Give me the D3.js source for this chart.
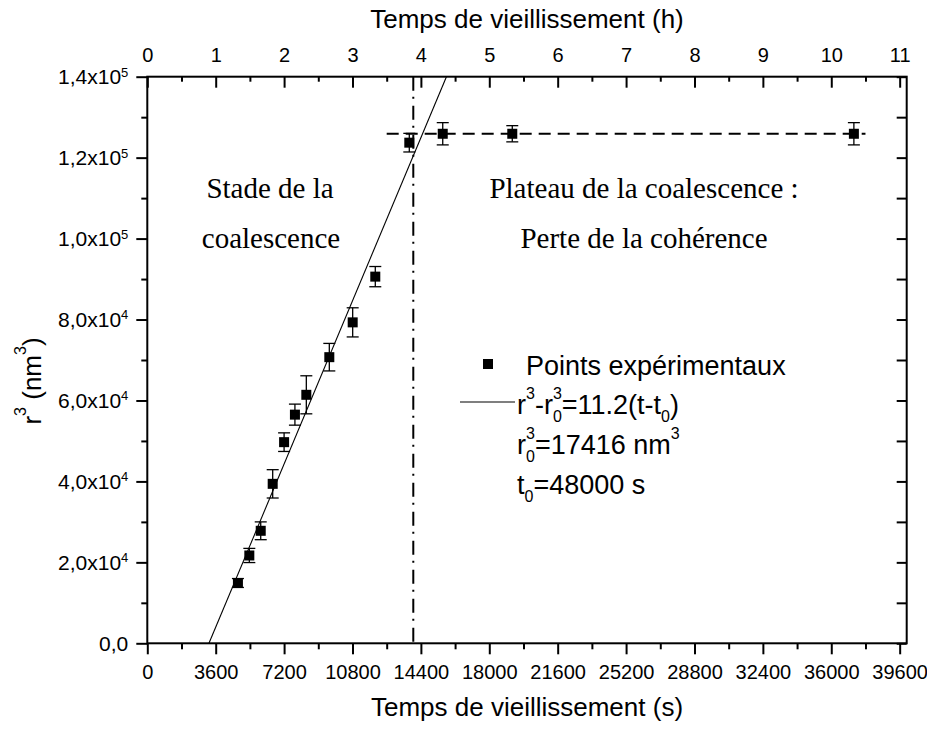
<!DOCTYPE html>
<html>
<head>
<meta charset="utf-8">
<script src="https://cdn.jsdelivr.net/npm/d3@7"></script>
<style>
  body { margin: 0; background: #fff; }
  svg { display: block; }
</style>
</head>
<body>
<script>
// Experimental points: ageing time (s), mean cubed radius (nm^3) and error
const timeS = [4770, 5370, 5970, 6600, 7200, 7770, 8370, 9580, 10810, 12000, 13790, 15550, 19210, 37190];
const r3    = [14900, 21700, 27800, 39400, 49700, 56500, 61400, 70700, 79300, 90600, 123700, 125900, 125900, 125900];
const r3Err = [1100, 1750, 2200, 3500, 2300, 2600, 4700, 3400, 3600, 2500, 2300, 2750, 2000, 2750];

// Linear coalescence law r^3 - r0^3 = k (t - t0)
const fitSlope = 11.2;
const fitR0Cube = 17416;
const fitT0 = 4800;

// Plateau level and limit of the coalescence stage
const plateauLevel = 125900;
const plateauSpan = [12600, 37800];
const stageLimitS = 14000;

// Axis ticks
const xTicksS = [0, 3600, 7200, 10800, 14400, 18000, 21600, 25200, 28800, 32400, 36000, 39600];
const xTicksH = [0, 1, 2, 3, 4, 5, 6, 7, 8, 9, 10, 11];
const yTicks = [0, 20000, 40000, 60000, 80000, 100000, 120000, 140000];

const W = 927, H = 731;
const plotL = 147.3, plotT = 76.7, plotR = 906.7, plotB = 643.3;
const sans = "'Liberation Sans', Arial, Helvetica, sans-serif";
const serif = "'Liberation Serif', 'Times New Roman', serif";

const svg = d3.select("body").append("svg").attr("width", W).attr("height", H);

const x = d3.scaleLinear().domain([0, 39970]).range([plotL, plotR]);
const xh = d3.scaleLinear().domain([0, 39970 / 3600]).range([plotL, plotR]);
const y = d3.scaleLinear().domain([0, 140000]).range([plotB, plotT]);

const mid = (arr) => arr.slice(0, -1).map((v, i) => (v + arr[i + 1]) / 2);

function styleAxis(g, noText, fs) {
  g.select(".domain").remove();
  g.selectAll(".tick line").attr("stroke", "#000").attr("stroke-width", 2);
  g.selectAll(".tick text").attr("fill", "#000").style("font-family", sans).style("font-size", (fs || 20) + "px");
  if (noText) g.selectAll(".tick text").remove();
}

// Rich text: pieces are [text, kind] with kind "", "sup", "sub" or "stack" (sup over sub).
// Only relative shifts (dx/dy) are used so that text-anchor applies to the whole line.
function fillRich(t, size, pieces, supRatio) {
  const small = Math.round(size * 0.6);
  const supOff = -size * (supRatio || 0.56), subOff = size * 0.28;
  let cur = 0;
  const span = (s, off, fs, dx) => {
    const ts = t.append("tspan").attr("dy", off - cur).text(s);
    if (fs) ts.style("font-size", fs + "px");
    if (dx) ts.attr("dx", dx);
    cur = off;
  };
  pieces.forEach(([s, kind]) => {
    if (kind === "sup") span(s, supOff, small);
    else if (kind === "sub") span(s, subOff, small);
    else if (kind === "stack") { span(s[0], supOff, small); span(s[1], subOff, small, -0.556 * small); }
    else span(s, 0, null);
  });
  return t;
}
function rich(parent, px, py, size, pieces) {
  const t = parent.append("text").attr("x", px).attr("y", py).style("font-size", size + "px");
  return fillRich(t, size, pieces);
}

// Bottom axis (seconds)
svg.append("g").attr("transform", `translate(0,${plotB})`)
  .call(d3.axisBottom(x).tickValues(xTicksS).tickSize(11).tickSizeOuter(0).tickPadding(11).tickFormat(d3.format("d")))
  .call(g => styleAxis(g));
svg.append("g").attr("transform", `translate(0,${plotB})`)
  .call(d3.axisBottom(x).tickValues(mid(xTicksS)).tickSize(6).tickSizeOuter(0).tickFormat(""))
  .call(g => styleAxis(g, true));

// Top axis (hours), ticks pointing inward
svg.append("g").attr("transform", `translate(0,${plotT})`)
  .call(d3.axisTop(xh).tickValues(xTicksH).tickSize(-11).tickSizeOuter(0).tickPadding(15).tickFormat(d3.format("d")))
  .call(g => styleAxis(g));
svg.append("g").attr("transform", `translate(0,${plotT})`)
  .call(d3.axisTop(xh).tickValues(mid(xTicksH)).tickSize(-5).tickSizeOuter(0).tickFormat(""))
  .call(g => styleAxis(g, true));

// Left axis with scientific labels
function sciParts(v) {
  if (v === 0) return [["0,0", ""]];
  const e = Math.floor(Math.log10(v));
  const m = (v / Math.pow(10, e)).toFixed(1).replace(".", ",");
  return [[m + "x10", ""], [String(e), "sup"]];
}
svg.append("g").attr("transform", `translate(${plotL},0)`)
  .call(d3.axisLeft(y).tickValues(yTicks).tickSize(11).tickSizeOuter(0).tickPadding(8).tickFormat(""))
  .call(g => styleAxis(g, false, 21))
  .call(g => g.selectAll(".tick text").each(function (d) {
    const t = d3.select(this).text(null).attr("dy", null).attr("y", 7);
    fillRich(t, 21, sciParts(d), 0.36);
  }));
svg.append("g").attr("transform", `translate(${plotL},0)`)
  .call(d3.axisLeft(y).tickValues(mid(yTicks)).tickSize(6).tickSizeOuter(0).tickFormat(""))
  .call(g => styleAxis(g, true));

// Right axis, inward ticks only
svg.append("g").attr("transform", `translate(${plotR},0)`)
  .call(d3.axisRight(y).tickValues(yTicks.concat(mid(yTicks))).tickSize(-10).tickSizeOuter(0).tickFormat(""))
  .call(g => styleAxis(g, true));

// Frame
svg.append("rect").attr("x", plotL).attr("y", plotT).attr("width", plotR - plotL).attr("height", plotB - plotT)
  .attr("fill", "none").attr("stroke", "#000").attr("stroke-width", 2);

// Axis titles
svg.append("text").attr("x", 527).attr("y", 28).attr("text-anchor", "middle")
  .style("font-family", sans).style("font-size", "26px").text("Temps de vieillissement (h)");
svg.append("text").attr("x", 527).attr("y", 716).attr("text-anchor", "middle")
  .style("font-family", sans).style("font-size", "26px").text("Temps de vieillissement (s)");
const ytg = svg.append("g").attr("transform", "translate(41,381) rotate(-90)").style("font-family", sans);
rich(ytg, 0, 0, 26, [["r", ""], ["3", "sup"], [" (nm", ""], ["3", "sup"], [")", ""]])
  .attr("text-anchor", "middle");

// Vertical separation between stages
svg.append("line").attr("x1", x(stageLimitS)).attr("x2", x(stageLimitS)).attr("y1", plotT).attr("y2", plotB)
  .attr("stroke", "#000").attr("stroke-width", 2).attr("stroke-dasharray", "14,6,2,7");

// Plateau level
svg.append("line").attr("x1", x(plateauSpan[0])).attr("x2", x(plateauSpan[1]))
  .attr("y1", y(plateauLevel)).attr("y2", y(plateauLevel))
  .attr("stroke", "#000").attr("stroke-width", 1.8).attr("stroke-dasharray", "12,7");

// Fitted coalescence law, from r^3 = 0 to the top of the plot
const fitY = (t) => fitR0Cube + fitSlope * (t - fitT0);
const tStart = fitT0 - fitR0Cube / fitSlope;
const tEnd = fitT0 + (y.domain()[1] - fitR0Cube) / fitSlope;
svg.append("line").attr("x1", x(tStart)).attr("y1", y(fitY(tStart)))
  .attr("x2", x(tEnd)).attr("y2", y(fitY(tEnd)))
  .attr("stroke", "#000").attr("stroke-width", 1.1);

// Error bars and markers
const pts = timeS.map((t, i) => ({ t, v: r3[i], e: r3Err[i] }));
const eb = svg.append("g").attr("stroke", "#000").attr("stroke-width", 1.3);
pts.forEach(p => {
  eb.append("line").attr("x1", x(p.t)).attr("x2", x(p.t)).attr("y1", y(p.v - p.e)).attr("y2", y(p.v + p.e));
  [p.v - p.e, p.v + p.e].forEach(v =>
    eb.append("line").attr("x1", x(p.t) - 6).attr("x2", x(p.t) + 6).attr("y1", y(v)).attr("y2", y(v)));
});
svg.append("g").selectAll("rect").data(pts).join("rect")
  .attr("x", d => x(d.t) - 5).attr("y", d => y(d.v) - 5).attr("width", 10).attr("height", 10).attr("fill", "#000");

// Stage annotations
const note = (tx, ty, s) => svg.append("text").attr("x", tx).attr("y", ty).attr("text-anchor", "middle")
  .style("font-family", serif).style("font-size", "29px").text(s);
note(270, 198, "Stade de la");
note(271, 248, "coalescence");
note(644, 198, "Plateau de la coalescence :");
note(644, 248, "Perte de la cohérence");

// Legend
const lg = svg.append("g").style("font-family", sans);
lg.append("rect").attr("x", 483).attr("y", 359).attr("width", 10).attr("height", 10).attr("fill", "#000");
rich(lg, 526, 375, 27, [["Points expérimentaux", ""]]);
lg.append("line").attr("x1", 460).attr("x2", 515).attr("y1", 402).attr("y2", 402)
  .attr("stroke", "#000").attr("stroke-width", 1.1);
rich(lg, 517, 414, 27, [["r", ""], ["3", "sup"], ["-r", ""], [["3", "0"], "stack"], ["=11.2(t-t", ""], ["0", "sub"], [")", ""]]);
rich(lg, 517, 454, 27, [["r", ""], [["3", "0"], "stack"], ["=17416 nm", ""], ["3", "sup"]]);
rich(lg, 517, 494, 27, [["t", ""], ["0", "sub"], ["=48000 s", ""]]);
</script>
</body>
</html>
